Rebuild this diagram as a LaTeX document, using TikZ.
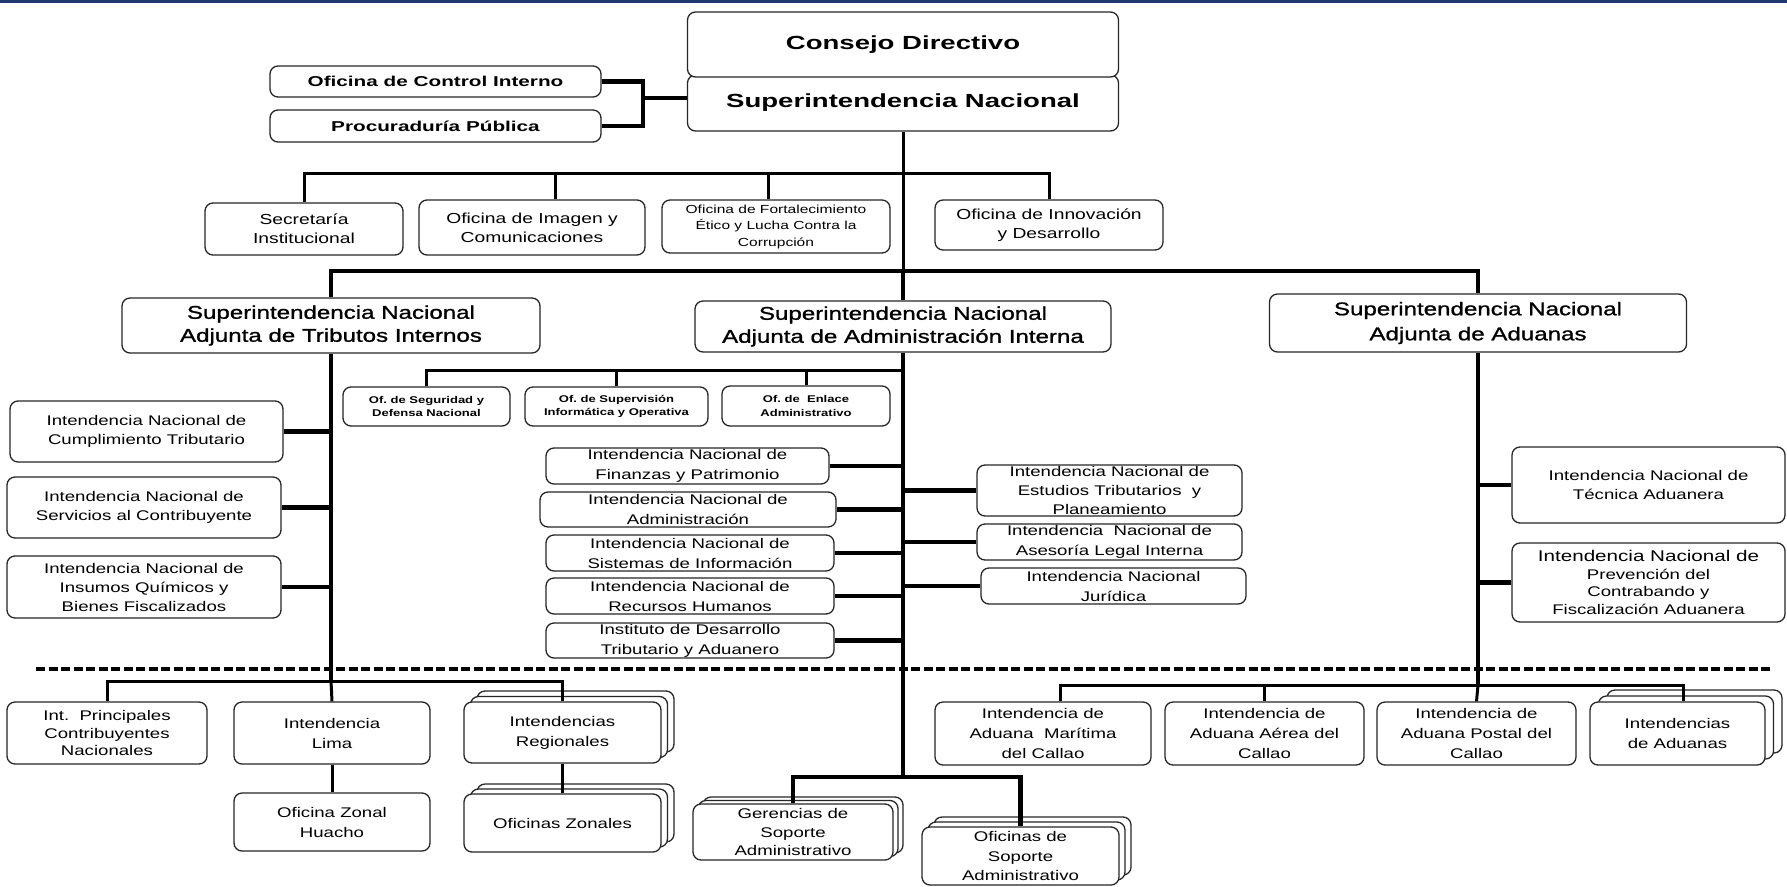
\documentclass[tikz,border=0pt]{standalone}
\usepackage{fontspec}
\setmainfont{Liberation Sans}[FakeStretch=1.33]
\newfontfamily\headfont{Liberation Sans}[FakeStretch=1.45]
\newfontfamily\midfont{Liberation Sans}[FakeStretch=1.31,FakeBold=1.1]
\usetikzlibrary{calc}
\definecolor{topblue}{RGB}{30,55,110}
\newcommand\fsz[2]{\fontsize{#1}{#2}\selectfont}
\tikzset{
  box/.style={draw=black!85, line width=1.3pt, fill=white, rounded corners=8pt,
    align=center, inner sep=0pt, font=\fsz{14}{19}},
  sz/.style 2 args={minimum width=#1pt, minimum height=#2pt},
  link/.style={line width=3pt},
  trunk/.style={line width=4.5pt},
  sepline/.style={line width=4pt, dash pattern=on 9pt off 3.5pt},
}
% two copies behind a stacked box: x, y, width, height, x step, y step
\newcommand\backcopies[6]{
  \foreach \k in {2,1}
    \draw[box] (#1-#3/2+\k*#5, #2-#4/2-\k*#6) rectangle ++(#3,#4);
}

\begin{document}
\begin{tikzpicture}[x=1pt, y=-1pt]
  \useasboundingbox (0,0) rectangle (1787,886);
  \fill[topblue] (0,0) rectangle (1787,2.5);

  % top
  \node[box, sz={431}{56}, font=\headfont\bfseries\fsz{19}{23}] (supnac) at (903,103) {Superintendencia Nacional};
  \node[box, sz={431}{65}, font=\headfont\bfseries\fsz{19}{23}] (consejo) at (903,44.5) {Consejo Directivo};
  \node[box, sz={331}{31}, font=\headfont\bfseries\fsz{14.3}{17}] (ctrl) at (435.5,81.5) {Oficina de Control Interno};
  \node[box, sz={331}{32}, font=\headfont\bfseries\fsz{14.3}{17}] (procu) at (435.5,126) {Procuraduría Pública};
  \coordinate (jctrl) at (643,98);
  \draw[trunk] (ctrl.east) -| (jctrl) |- (procu.east);
  \draw[trunk] (jctrl) -- (jctrl -| supnac.west);

  % first row
  \node[box, sz={198}{52}, font=\fsz{14.5}{19}] (secret) at (304,229) {Secretaría\\Institucional};
  \node[box, sz={226}{55}, font=\fsz{14.5}{19}] (imagen) at (532,227.5) {Oficina de Imagen y\\Comunicaciones};
  \node[box, sz={228}{53}, font=\fsz{11.7}{16.5}] (fortal) at (776,226.5) {Oficina de Fortalecimiento\\Ético y Lucha Contra la\\Corrupción};
  \node[box, sz={228}{50}, font=\fsz{14.5}{19}] (innov) at (1049,225) {Oficina de Innovación\\y Desarrollo};
  \coordinate (bar1) at (903,173);
  \coordinate (dimg) at (555,173);
  \coordinate (dfor) at (768,173);
  \draw[link] (supnac.south) -- (bar1);
  \draw[link] (secret.north) |- (bar1) -| (innov.north);
  \draw[link] (dimg) -- (dimg |- imagen.north);
  \draw[link] (dfor) -- (dfor |- fortal.north);

  % adjuntas
  \node[box, sz={418}{55}, font=\midfont\fsz{18.4}{23}] (trib) at (331,325.5) {Superintendencia Nacional\\Adjunta de Tributos Internos};
  \node[box, sz={416}{51}, font=\midfont\fsz{18.4}{23}] (admin) at (903,326.5) {Superintendencia Nacional\\Adjunta de Administración Interna};
  \node[box, sz={417}{58}, font=\midfont\fsz{18.4}{25}] (adu) at (1478,323) {Superintendencia Nacional\\Adjunta de Aduanas};
  \coordinate (bar2) at (903,271);
  \draw[link] (bar1) -- (bar2);
  \draw[trunk] (trib.north) |- (bar2) -| (adu.north);
  \draw[trunk] (bar2) -- (admin.north);

  % tributos internos
  \node[box, sz={273}{61}] (cumpl) at (146.5,431.5) {Intendencia Nacional de\\Cumplimiento Tributario};
  \node[box, sz={274}{61}] (servic) at (144,507.5) {Intendencia Nacional de\\Servicios al Contribuyente};
  \node[box, sz={274}{62}] (insum) at (144,587) {Intendencia Nacional de\\Insumos Químicos y\\Bienes Fiscalizados};
  \coordinate (bar3) at (331,681);
  \draw[trunk] (trib.south) -- (bar3);
  \foreach \n in {cumpl,servic,insum}
    \draw[trunk] (\n.east) -- (\n.east -| trib.south);

  % administracion interna
  \node[box, sz={167}{39}, font=\bfseries\fsz{9.8}{13.5}] (segur) at (426.5,406.5) {Of.\ de Seguridad y\\Defensa Nacional};
  \node[box, sz={183}{39}, font=\bfseries\fsz{9.8}{13.5}] (superv) at (616.5,406.5) {Of.\ de Supervisión\\Informática y Operativa};
  \node[box, sz={168}{40}, font=\bfseries\fsz{9.8}{13.5}] (enlace) at (806,406) {Of.\ de\ \ Enlace\\Administrativo};
  \coordinate (bar4) at (903,370);
  \draw[link] (segur.north) |- (bar4);
  \draw[link] (superv.north) -- (superv.north |- bar4);
  \draw[link] (enlace.north) -- (enlace.north |- bar4);

  \node[box, sz={283}{36}, font=\fsz{14}{20}] (finanz) at (687.5,466) {Intendencia Nacional de\\Finanzas y Patrimonio};
  \node[box, sz={296}{35}, font=\fsz{14}{20}] (admon) at (688,509.5) {Intendencia Nacional de\\Administración};
  \node[box, sz={288}{36}, font=\fsz{14}{20}] (sistem) at (690,553) {Intendencia Nacional de\\Sistemas de Información};
  \node[box, sz={288}{36}, font=\fsz{14}{20}] (rrhh) at (690,596) {Intendencia Nacional de\\Recursos Humanos};
  \node[box, sz={288}{35}, font=\fsz{14}{20}] (idtad) at (690,640.5) {Instituto de Desarrollo\\Tributario y Aduanero};
  \node[box, sz={265}{51}] (estud) at (1109.5,490.5) {Intendencia Nacional de\\Estudios Tributarios\ \ y\\Planeamiento};
  \node[box, sz={265}{36}, font=\fsz{14}{20}] (asesor) at (1109.5,542) {Intendencia\ \ Nacional de\\Asesoría Legal Interna};
  \node[box, sz={265}{36}, font=\fsz{14}{20}] (jurid) at (1113.5,586) {Intendencia Nacional\\Jurídica};
  \coordinate (bar5) at (903,777);
  \draw[trunk] (admin.south) -- (bar5);
  \foreach \n in {finanz,admon,sistem,rrhh,idtad}
    \draw[trunk] (\n.east) -- (\n.east -| admin.south);
  \foreach \n in {estud,asesor,jurid}
    \draw[trunk] (\n.west) -- (\n.west -| admin.south);

  % aduanas
  \node[box, sz={273}{76}] (tecnic) at (1648.5,485) {Intendencia Nacional de\\Técnica Aduanera};
  \node[box, sz={273}{79}, font=\fsz{14}{17.5}] (prev) at (1648.5,582.5) {{\fsz{15.5}{17.5}Intendencia Nacional de}\\Prevención del\\Contrabando y\\Fiscalización Aduanera};
  \coordinate (bar6) at (1478,685);
  \draw[trunk] (adu.south) -- (bar6);
  \foreach \n in {tecnic,prev}
    \draw[trunk] (\n.west) -- (\n.west -| adu.south);

  % separation
  \coordinate (sepl) at (36,669);
  \coordinate (sepr) at (1771,669);
  \draw[sepline] (sepl) -- (sepr);

  % bottom left
  \node[box, sz={200}{62}, font=\fsz{14}{17.5}] (princ) at (107,733) {Int.\ \ Principales\\Contribuyentes\\Nacionales};
  \node[box, sz={196}{62}, font=\fsz{14}{20}] (lima) at (332,733) {Intendencia\\Lima};
  \node[box, sz={196}{58}, font=\fsz{14}{20}] (huacho) at (332,822) {Oficina Zonal\\Huacho};
  \backcopies{562.5}{732.5}{197}{61}{6.5}{5.5}
  \node[box, sz={197}{61}, font=\fsz{14}{20}] (regio) at (562.5,732.5) {Intendencias\\Regionales};
  \backcopies{562.5}{823}{197}{58}{6.5}{5}
  \node[box, sz={197}{58}] (zonal) at (562.5,823) {Oficinas Zonales};
  \draw[link] (princ.north) |- (bar3) -| (regio.north);
  \draw[link] (bar3) -- (lima.north);
  \draw[link] (lima.south) -- (huacho.north);
  \draw[link] (regio.south) -- (zonal.north);

  % bottom middle
  \backcopies{793}{832}{200}{56}{5}{3.5}
  \node[box, sz={200}{56}, font=\fsz{14}{18.5}] (geren) at (793,832) {Gerencias de\\Soporte\\Administrativo};
  \backcopies{1020.5}{856}{197}{58}{6}{5}
  \node[box, sz={197}{58}, font=\fsz{14}{19.5}] (ofsop) at (1020.5,856) {Oficinas de\\Soporte\\Administrativo};
  \draw[trunk] (geren.north) |- (bar5) -| (ofsop.north);

  % bottom right
  \node[box, sz={216}{63}, font=\fsz{14}{20}] (marit) at (1043,733.5) {Intendencia de\\Aduana\ \ Marítima\\del Callao};
  \node[box, sz={199}{63}, font=\fsz{14}{20}] (aerea) at (1264.5,733.5) {Intendencia de\\Aduana Aérea del\\Callao};
  \node[box, sz={199}{63}, font=\fsz{14}{20}] (postal) at (1476.5,733.5) {Intendencia de\\Aduana Postal del\\Callao};
  \backcopies{1677.5}{733.5}{175}{63}{8.5}{6}
  \node[box, sz={175}{63}, font=\fsz{14}{20}] (aduanas) at (1677.5,733.5) {Intendencias\\de Aduanas};
  \coordinate (dmar) at (1060,685);
  \coordinate (dadu) at (1683,685);
  \draw[link] (dmar |- marit.north) -- (dmar) -- (dadu) -- (dadu |- aduanas.north);
  \draw[link] (aerea.north) -- (aerea.north |- bar6);
  \draw[link] (bar6) -- (postal.north);
\end{tikzpicture}
\end{document}
